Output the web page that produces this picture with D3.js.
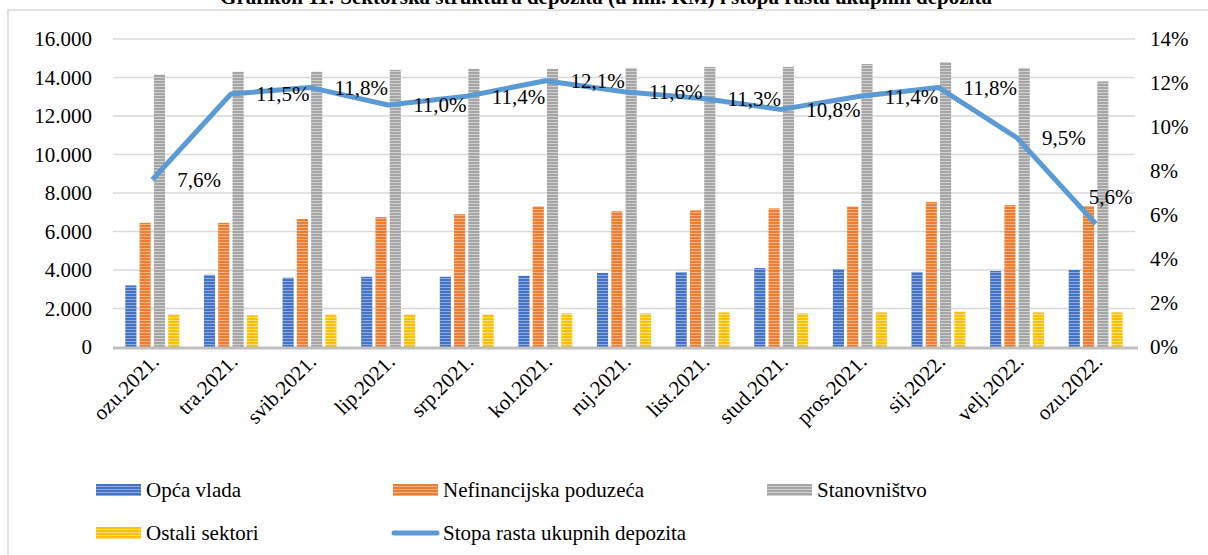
<!DOCTYPE html>
<html>
<head>
<meta charset="utf-8">
<script src="https://cdn.jsdelivr.net/npm/d3@7"></script>
<style>
  body { margin: 0; background: #fff; }
  svg text { font-family: "Liberation Serif", "Times New Roman", serif; fill: #000; }
</style>
</head>
<body>
<svg id="fig" width="1208" height="555"></svg>
<script>
// data
const months = ["ozu.2021.", "tra.2021.", "svib.2021.", "lip.2021.", "srp.2021.", "kol.2021.", "ruj.2021.",
    "list.2021.", "stud.2021.", "pros.2021.", "sij.2022.", "velj.2022.", "ozu.2022."];
const opcaVlada = [3200, 3750, 3600, 3650, 3650, 3700, 3850, 3900, 4100, 4050, 3900, 3950, 4000];
const nefinancijska = [6450, 6450, 6650, 6750, 6900, 7300, 7050, 7100, 7200, 7300, 7530, 7370, 7320];
const stanovnistvo = [14150, 14300, 14300, 14400, 14450, 14450, 14500, 14550, 14550, 14700, 14800, 14500, 13800];
const ostali = [1700, 1650, 1700, 1700, 1700, 1750, 1750, 1800, 1750, 1800, 1850, 1800, 1800];
const stopaRasta = [7.6, 11.5, 11.8, 11.0, 11.4, 12.1, 11.6, 11.3, 10.8, 11.4, 11.8, 9.5, 5.6];
const leftTicks = [0, 2000, 4000, 6000, 8000, 10000, 12000, 14000, 16000];
const rightTicks = [0, 2, 4, 6, 8, 10, 12, 14];

const barSeries = [
    {name: "Opća vlada", values: opcaVlada, color: "#4472c4", light: "#8faadc"},
    {name: "Nefinancijska poduzeća", values: nefinancijska, color: "#ed7d31", light: "#f4b183"},
    {name: "Stanovništvo", values: stanovnistvo, color: "#a5a5a5", light: "#d0d0d0"},
    {name: "Ostali sektori", values: ostali, color: "#ffc000", light: "#ffe080"}
];
const lineColor = "#5b9bd5";

const svg = d3.select("#fig");
const plotLeft = 113, plotRight = 1135, plotTop = 39, plotBottom = 347;

// chart frame
svg.append("rect")
    .attr("x", 8).attr("y", 10)
    .attr("width", 1215).attr("height", 560)
    .attr("fill", "none").attr("stroke", "#d9d9d9").attr("stroke-width", 1.5);

// title (cut off at top in the reference)
svg.append("text")
    .attr("x", 606).attr("y", 4)
    .attr("text-anchor", "middle")
    .attr("font-size", 21).attr("font-weight", "bold")
    .text("Grafikon 11: Sektorska struktura depozita (u mil. KM) i stopa rasta ukupnih depozita");

// stripe patterns
const defs = svg.append("defs");
barSeries.forEach((s, i) => {
    const p = defs.append("pattern")
        .attr("id", "pat" + i)
        .attr("patternUnits", "userSpaceOnUse")
        .attr("width", 4).attr("height", 3);
    p.append("rect").attr("width", 4).attr("height", 3).attr("fill", s.color);
    p.append("rect").attr("y", 2).attr("width", 4).attr("height", 1).attr("fill", s.light);
});

const x0 = d3.scaleBand().domain(months).range([plotLeft, plotRight]);
const x1 = d3.scaleBand().domain(d3.range(4)).range([x0.bandwidth() / 2 - 27, x0.bandwidth() / 2 + 27]).paddingInner(0.22);
const y = d3.scaleLinear().domain([0, 16000]).range([plotBottom, plotTop]);
const yR = d3.scaleLinear().domain([0, 14]).range([plotBottom, plotTop]);

// gridlines
svg.append("g")
    .selectAll("line")
    .data(leftTicks.slice(1))
    .join("line")
    .attr("x1", plotLeft).attr("x2", plotRight)
    .attr("y1", d => y(d)).attr("y2", d => y(d))
    .attr("stroke", "#d9d9d9").attr("stroke-width", 1.3);

// left axis
const fmt = d3.formatLocale({decimal: ",", thousands: ".", grouping: [3], currency: ["", ""]}).format(",");
const yAxis = svg.append("g")
    .attr("transform", `translate(${plotLeft},0)`)
    .call(d3.axisLeft(y).tickValues(leftTicks).tickFormat(fmt).tickSize(0).tickPadding(21));
yAxis.select(".domain").remove();
yAxis.selectAll("text").attr("font-size", 21).attr("dy", "0.33em");

// right axis
const yAxisR = svg.append("g")
    .attr("transform", `translate(${plotRight},0)`)
    .call(d3.axisRight(yR).tickValues(rightTicks).tickFormat(d => d + "%").tickSize(0).tickPadding(15));
yAxisR.select(".domain").remove();
yAxisR.selectAll("text").attr("font-size", 21).attr("dy", "0.33em");

// bars
barSeries.forEach((s, i) => {
    svg.append("g")
        .selectAll("rect")
        .data(s.values)
        .join("rect")
        .attr("x", (d, j) => x0(months[j]) + x1(i))
        .attr("width", x1.bandwidth())
        .attr("y", d => y(d))
        .attr("height", d => plotBottom - y(d))
        .attr("fill", `url(#pat${i})`);
});

// baseline
svg.append("line")
    .attr("x1", plotLeft).attr("x2", plotRight + 3)
    .attr("y1", plotBottom + 1).attr("y2", plotBottom + 1)
    .attr("stroke", "#bfbfbf").attr("stroke-width", 3);

// x labels
svg.append("g")
    .selectAll("text")
    .data(months)
    .join("text")
    .attr("transform", d => `translate(${x0(d) + x0.bandwidth() / 2 + 8},${plotBottom + 16}) rotate(-45)`)
    .attr("text-anchor", "end")
    .attr("font-size", 21)
    .text(d => d);

// growth line
const cx = (d, j) => x0(months[j]) + x0.bandwidth() / 2;
svg.append("path")
    .datum(stopaRasta)
    .attr("fill", "none")
    .attr("stroke", lineColor)
    .attr("stroke-width", 5)
    .attr("stroke-linejoin", "round")
    .attr("d", d3.line().x(cx).y(d => yR(d)));

// labels sit right of each point; the last one was nudged up-left in the original
const lastIdx = stopaRasta.length - 1;
svg.append("g")
    .selectAll("text")
    .data(stopaRasta)
    .join("text")
    .attr("x", (d, j) => cx(d, j) + (j === lastIdx ? -7 : 25))
    .attr("y", (d, j) => yR(d) + (j === lastIdx ? -27 : 0))
    .attr("dy", "0.35em")
    .attr("font-size", 21)
    .text(d => d.toFixed(1).replace(".", ",") + "%");

// legend
const legendItems = [
    {name: barSeries[0].name, x: 96, y: 490, pat: 0},
    {name: barSeries[1].name, x: 393, y: 490, pat: 1},
    {name: barSeries[2].name, x: 767, y: 490, pat: 2},
    {name: barSeries[3].name, x: 96, y: 533, pat: 3},
    {name: "Stopa rasta ukupnih depozita", x: 393, y: 533, line: true}
];
const lg = svg.append("g").selectAll("g").data(legendItems).join("g")
    .attr("transform", d => `translate(${d.x},${d.y})`);
lg.filter(d => !d.line).append("rect")
    .attr("x", 0).attr("y", -6).attr("width", 45).attr("height", 12)
    .attr("fill", d => `url(#pat${d.pat})`);
lg.filter(d => d.line).append("line")
    .attr("x1", 1).attr("x2", 44).attr("y1", 0).attr("y2", 0)
    .attr("stroke", lineColor).attr("stroke-width", 5).attr("stroke-linecap", "round");
lg.append("text")
    .attr("x", 50).attr("dy", "0.35em")
    .attr("font-size", 21)
    .text(d => d.name);
</script>
</body>
</html>
